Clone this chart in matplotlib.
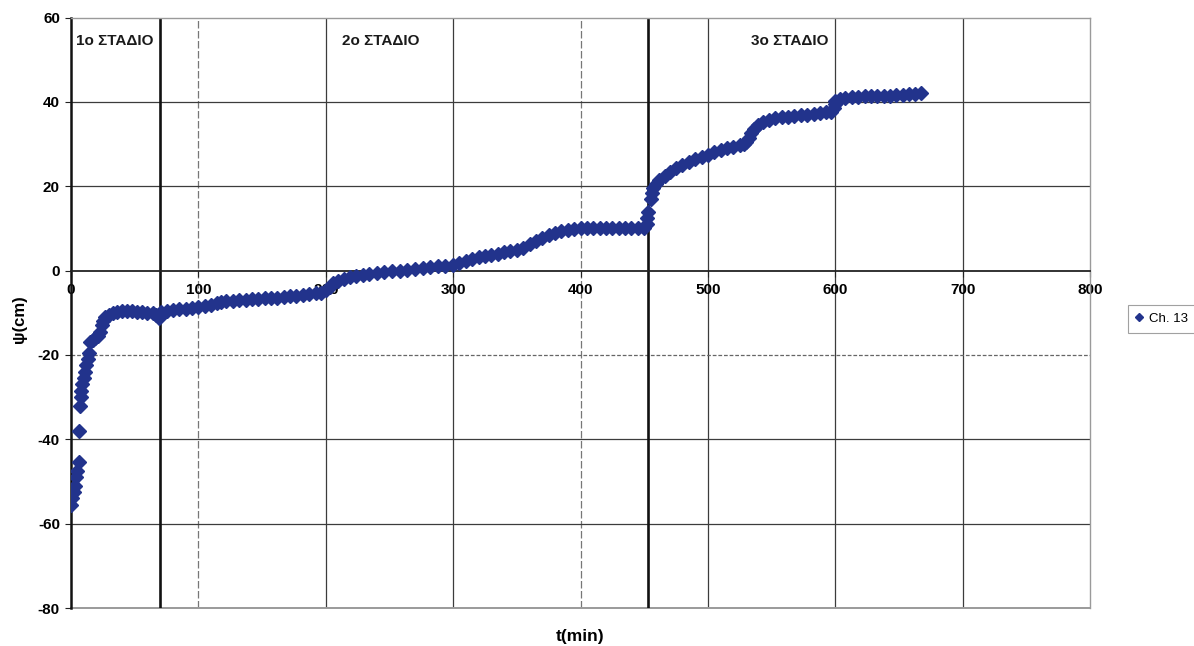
import matplotlib
matplotlib.use("Agg")
import matplotlib.pyplot as plt

# Ch. 13 pressure-head readings: time (min) and psi (cm)
t_min = [
    0, 1, 2, 3, 4, 5, 6, 6.5,
    7, 7.5, 8, 9, 10, 11, 12, 13, 14,
    15, 17, 19, 21, 23, 24, 25, 27, 30, 33, 36, 40, 44, 48, 52, 56, 60, 64, 67, 69,
    71, 75, 80, 85, 90, 95, 100, 105, 110, 115, 118, 122, 127, 132, 137, 142, 147,
    152, 157, 162, 167, 172, 177, 182, 187, 192, 196, 200, 203, 206, 210, 214, 219,
    224, 229, 234, 240, 246, 252, 258, 264, 270, 276, 282, 288, 294, 300, 305, 310,
    315, 320, 325, 330, 335, 340, 345, 350, 355, 360, 365, 370, 375, 380, 385, 390,
    395, 400, 405, 410, 415, 420, 425, 430, 435, 440, 445, 450, 452, 452.5, 453,
    455, 456, 457, 459, 462, 466, 470, 475, 480, 485, 490, 495, 500, 505, 510, 515,
    520, 525, 528, 530, 532, 534, 536, 539, 543, 548, 553, 558, 563, 568, 573, 578,
    583, 588, 593, 597, 599, 599.5, 600, 604, 608, 613, 618, 623, 628, 633, 638,
    643, 648, 653, 658, 663, 667,
]
psi_cm = [
    -55.5, -54, -52.5, -51, -49, -47.5, -45.5, -38,
    -32, -30, -28.5, -27, -25.5, -24, -22.5, -21, -19.5,
    -17, -16.5, -16, -15.5, -14.5, -13, -12, -11, -10.5, -10, -9.8, -9.6, -9.7,
    -9.7, -9.8, -9.9, -10, -10.1, -10.6, -11.2,
    -9.8, -9.6, -9.4, -9.2, -9.0, -8.8, -8.6, -8.4, -8.2, -7.8, -7.4, -7.2, -7.1,
    -7.0, -6.9, -6.8, -6.7, -6.6, -6.5, -6.4, -6.3, -6.1, -6.0, -5.8, -5.6, -5.4,
    -5.2, -4.6, -3.8, -3.0, -2.4, -2.0, -1.6, -1.3, -1.0, -0.8, -0.6, -0.4, -0.2,
    0.0, 0.2, 0.4, 0.6, 0.8, 1.0, 1.2, 1.4, 1.8, 2.3, 2.7, 3.1, 3.4, 3.7, 4.0, 4.3,
    4.6, 4.9, 5.4, 6.2, 7.0, 7.8, 8.4, 8.9, 9.3, 9.6, 9.9, 10.0, 10.0, 10.0, 10.0,
    10.0, 10.0, 10.0, 10.0, 10.0, 10.0, 10.0, 11.0, 12.5, 14.0,
    17.0, 18.5, 19.5, 20.5, 21.5, 22.5, 23.3, 24.2, 25.0, 25.8, 26.4, 27.0, 27.5,
    28.0, 28.5, 29.0, 29.4, 29.8, 30.0, 30.5, 31.5, 32.6, 33.5, 34.5, 35.3, 35.8,
    36.1, 36.3, 36.5, 36.7, 36.9, 37.0, 37.2, 37.4, 37.5, 37.7, 38.5, 39.5, 40.3,
    40.6, 40.9, 41.1, 41.2, 41.3, 41.3, 41.4, 41.4, 41.5, 41.6, 41.7, 41.8, 41.9,
    42.0,
]

# Stage boundaries (min) and stage captions
stage_bounds = [70, 453]
stage_labels = ["1ο ΣΤΑΔΙΟ", "2ο ΣΤΑΔΙΟ", "3ο ΣΤΑΔΙΟ"]
stage_label_t = [4, 213, 534]

x_ticks = [0, 100, 200, 300, 400, 500, 600, 700, 800]
y_ticks = [-80, -60, -40, -20, 0, 20, 40, 60]

plt.rcParams["font.family"] = ["Liberation Sans", "DejaVu Sans"]

fig = plt.figure(figsize=(11.94, 6.46), dpi=100)
ax = fig.add_axes([71 / 1194, 1 - 608 / 646, (1090 - 71) / 1194, (608 - 17.5) / 646])

ax.set_xlim(0, 800)
ax.set_ylim(-80, 60)

grid_c = "#3c3c3c"
for xv in x_ticks[1:-1]:
    ls = (0, (6, 2)) if xv in (100, 400) else "-"
    ax.axvline(xv, color=grid_c if xv not in (100, 400) else "#777777", lw=0.9, ls=ls, zorder=1)
for yv in y_ticks:
    if yv in (0, -80, 60):
        continue
    ls = (0, (3, 1.5)) if yv == -20 else "-"
    ax.axhline(yv, color=grid_c if yv != -20 else "#666666", lw=0.9, ls=ls, zorder=1)

# light frame on top, right and bottom
ax.axhline(-80, color="#9a9a9a", lw=1.4, zorder=1, clip_on=False)
for side in ("top", "right"):
    ax.spines[side].set_color("#9a9a9a")
    ax.spines[side].set_linewidth(1.0)

ax.spines["left"].set_color("#111111")
ax.spines["left"].set_linewidth(1.8)
ax.spines["bottom"].set_position(("data", 0))
ax.spines["bottom"].set_color("#222222")
ax.spines["bottom"].set_linewidth(1.3)

for xb in stage_bounds:
    ax.axvline(xb, color="#111111", lw=1.9, zorder=2)

ax.plot(t_min, psi_cm, linestyle="none", marker="D", markersize=7.2,
        color="#22338c", markeredgecolor="#22338c", label="Ch. 13", zorder=3)

for lab, tx in zip(stage_labels, stage_label_t):
    ax.text(tx, 54.5, lab, fontsize=11, fontweight="bold", ha="left", va="center",
            color="#1a1a1a", zorder=4)

ax.set_xticks(x_ticks)
ax.set_yticks(y_ticks)
ax.set_xticklabels([str(v) for v in x_ticks], fontsize=11, fontweight="bold")
ax.set_yticklabels([str(v) for v in y_ticks], fontsize=11, fontweight="bold")
ax.tick_params(axis="x", direction="out", length=4, pad=5, color="#222222")
ax.tick_params(axis="y", direction="out", length=4, pad=4, color="#222222")

ax.set_ylabel("ψ(cm)", fontsize=12, fontweight="bold")
ax.yaxis.set_label_coords(-44 / (1090 - 71), 0.49)
fig.text(580 / 1194, 1 - 636 / 646, "t(min)", fontsize=12.5, fontweight="bold",
         ha="center", va="center")

leg = fig.legend(loc="upper left", bbox_to_anchor=(1121 / 1194, 1 - 298 / 646),
                 fontsize=9.5, frameon=True, fancybox=False, handlelength=0.6,
                 handletextpad=0.4, borderpad=0.6, markerscale=0.55)
leg.get_frame().set_edgecolor("#8a8a8a")
leg.get_frame().set_linewidth(0.8)

fig.savefig("out.png", dpi=100, facecolor="white")
